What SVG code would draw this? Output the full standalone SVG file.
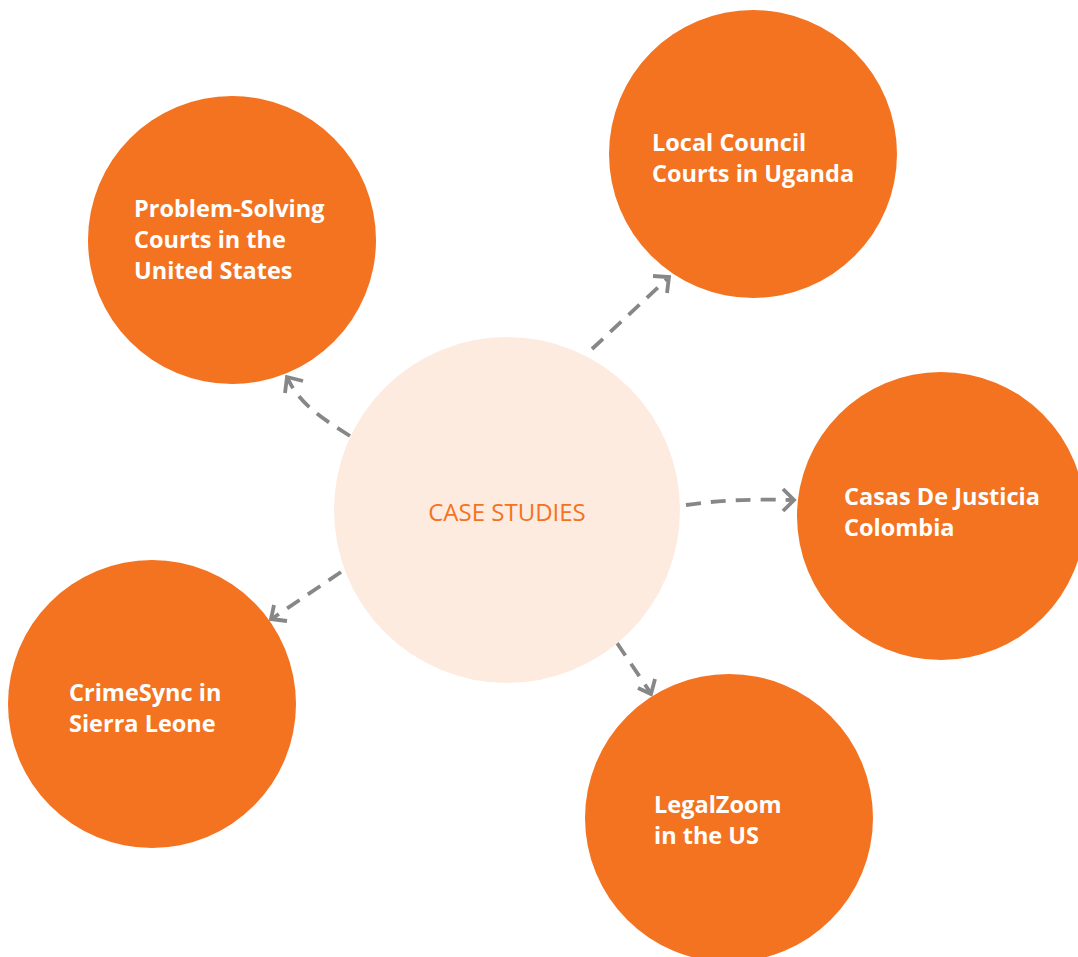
<svg xmlns="http://www.w3.org/2000/svg" width="1078" height="957" viewBox="0 0 1078 957">
<defs>
<style>
.node{fill:#F37321}
.center{fill:#FDEBE0}
.lbl{font-family:"Open Sans","Noto Sans",sans-serif;font-weight:bold;font-size:23.5px;fill:#FFFFFF}
.clbl{font-family:"Open Sans","Noto Sans",sans-serif;font-size:24px;fill:#F37321}
.conn{fill:none;stroke:#878787;stroke-width:3.8;stroke-dasharray:15 10}
.head{fill:none;stroke:#878787;stroke-width:3.8}
</style>
</defs>
<rect width="1078" height="957" fill="#FFFFFF"/>
<g id="connectors">
<path class="conn" d="M350,436 C325,420 300,405 288,379"/>
<path class="head" d="M303,381 L287,377 L285,393"/>
<path class="conn" d="M592,349 L667,279"/>
<path class="head" d="M653,276 L669,277 L667,293"/>
<path class="conn" d="M686,505 C720,500 750,499 792,500"/>
<path class="head" d="M783,489 L794,500 L783,511"/>
<path class="conn" d="M341,572 L273,618"/>
<path class="head" d="M274,605 L271,619 L287,621"/>
<path class="conn" d="M617,643 L650,692"/>
<path class="head" d="M638,688 L651,694 L655,679"/>
</g>
<g id="node-center">
<circle class="center" cx="507" cy="510" r="173"/>
<text class="clbl" x="507" y="521" text-anchor="middle">CASE STUDIES</text>
</g>
<g id="node-problem-solving">
<circle class="node" cx="232" cy="240" r="144"/>
<text class="lbl" x="134" y="217">Problem-Solving</text>
<text class="lbl" x="134" y="248">Courts in the</text>
<text class="lbl" x="134" y="279">United States</text>
</g>
<g id="node-local-council">
<circle class="node" cx="753" cy="154" r="144"/>
<text class="lbl" x="652" y="151">Local Council</text>
<text class="lbl" x="652" y="182">Courts in Uganda</text>
</g>
<g id="node-casas">
<circle class="node" cx="941" cy="516" r="144"/>
<text class="lbl" x="844" y="505">Casas De Justicia</text>
<text class="lbl" x="844" y="536">Colombia</text>
</g>
<g id="node-crimesync">
<circle class="node" cx="152" cy="704" r="144"/>
<text class="lbl" x="69" y="701">CrimeSync in</text>
<text class="lbl" x="69" y="732">Sierra Leone</text>
</g>
<g id="node-legalzoom">
<circle class="node" cx="729" cy="818" r="144"/>
<text class="lbl" x="654" y="813">LegalZoom</text>
<text class="lbl" x="654" y="844">in the US</text>
</g>
</svg>
